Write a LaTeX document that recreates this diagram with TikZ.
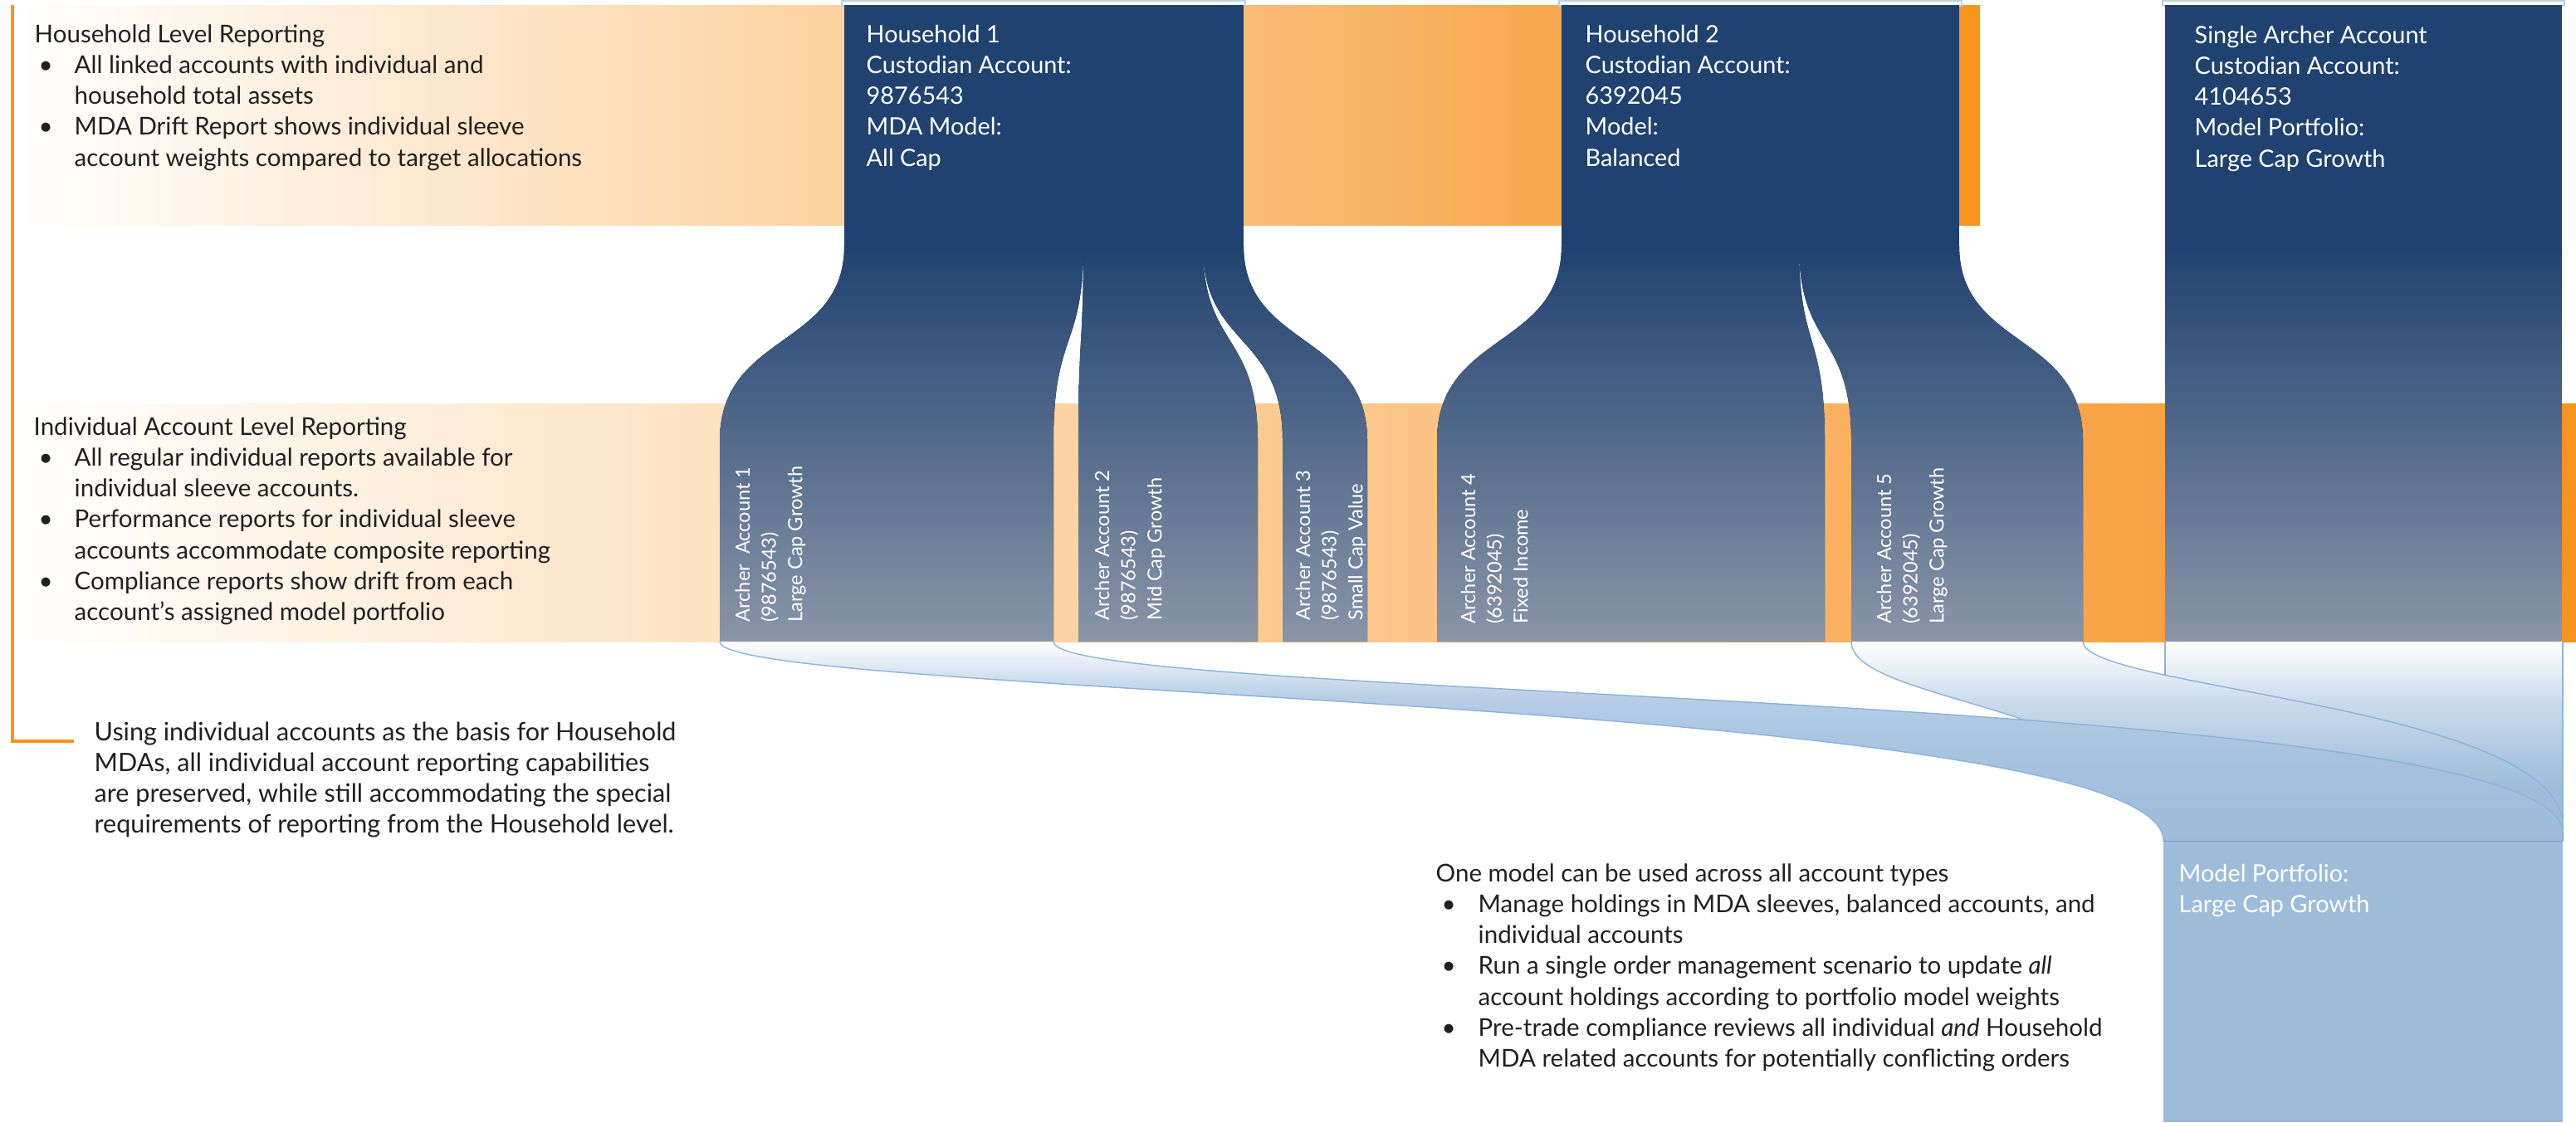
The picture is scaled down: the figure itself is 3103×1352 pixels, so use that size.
\documentclass[tikz,border=0pt]{standalone}
\usepackage{fontspec}
\setmainfont{Lato}
\usepackage{array}
\usepackage{tikz}
\usepackage{xcolor}

\definecolor{navy}{HTML}{1F4270}
\definecolor{slate}{HTML}{8A95A8}
\definecolor{ink}{HTML}{231F20}
\definecolor{bandA}{HTML}{FCD2A0}
\definecolor{bandB}{HTML}{FABA72}
\definecolor{bandC}{HTML}{F8A64B}
\definecolor{bandD}{HTML}{F7941D}
\definecolor{mpblue}{HTML}{9DBCDA}
\definecolor{flowdeep}{HTML}{A5C2DE}
\definecolor{flowmid}{HTML}{B6CDE5}
\definecolor{colmid}{HTML}{C8D9EB}
\definecolor{flowline}{HTML}{8DB3D9}
\definecolor{frameblue}{HTML}{B9D0E8}
\pgfdeclarehorizontalshading{bandshade}{100bp}{color(0bp)=(white); color(25bp)=(white); color(46bp)=(bandA); color(57bp)=(bandB); color(65bp)=(bandC); color(75bp)=(bandD); color(100bp)=(bandD)}
\pgfdeclareverticalshading{flowshade}{100bp}{color(0bp)=(mpblue); color(25bp)=(mpblue); color(45bp)=(flowdeep); color(61bp)=(flowmid); color(75bp)=(white); color(100bp)=(white)}
\pgfdeclareverticalshading{colshade}{100bp}{color(0bp)=(mpblue); color(25bp)=(mpblue); color(38bp)=(mpblue); color(59bp)=(colmid); color(75bp)=(white); color(100bp)=(white)}

\begin{document}
\begin{tikzpicture}[x=0.1mm, y=0.1mm]
\tikzstyle{every node}+=[inner sep=0pt]
\tikzstyle{bodytext}=[anchor=base west, text=ink, font=\fontsize{8.4}{10.6}\selectfont]
\tikzstyle{boxtext}=[anchor=base west, text=white, font=\fontsize{8.2}{10.6}\selectfont]
\tikzstyle{sleevetext}=[anchor=base west, rotate=90, text=white, font=\fontsize{6.7}{9}\selectfont]
\tikzstyle{sleeve}=[top color=navy, bottom color=slate]
\tikzstyle{column}=[shading=colshade]
\tikzstyle{flowedge}=[flowline, line width=0.4pt]
\useasboundingbox (0,0) rectangle (3103,-1352);
\fill [shading=bandshade] (20,-6) rectangle (2385,-271);
\fill [shading=bandshade] (20,-486) rectangle (3103,-773);
\draw [bandD, line width=1.1pt] (15,-6) -- (15,-893) -- (89,-893);
\draw [frameblue, fill=white, line width=0.4pt] (1014,-1) rectangle (1500,-7);
\draw [frameblue, fill=white, line width=0.4pt] (1878,-1) rectangle (2363,-7);
\draw [frameblue, fill=white, line width=0.4pt] (2605,-1) rectangle (3089,-7);
\fill [sleeve] (1017,-296) -- (1305,-296) .. controls (1305,-420) and (1269,-400) .. (1269,-531) -- (1269,-773) -- (867,-773) -- (867,-531) .. controls (867,-400) and (1017,-420) .. (1017,-296) -- cycle;
\fill [sleeve] (1305,-296) -- (1449,-296) .. controls (1449,-420) and (1515,-400) .. (1515,-531) -- (1515,-773) -- (1299,-773) -- (1299,-531) .. controls (1299,-400) and (1305,-420) .. (1305,-296) -- cycle;
\fill [sleeve] (1449,-296) -- (1498,-296) .. controls (1498,-420) and (1647,-400) .. (1647,-531) -- (1647,-773) -- (1545,-773) -- (1545,-531) .. controls (1545,-400) and (1449,-420) .. (1449,-296) -- cycle;
\fill [sleeve] (1881,-296) -- (2167,-296) .. controls (2167,-420) and (2198,-400) .. (2198,-531) -- (2198,-773) -- (1731,-773) -- (1731,-531) .. controls (1731,-400) and (1881,-420) .. (1881,-296) -- cycle;
\fill [sleeve] (2167,-296) -- (2360,-296) .. controls (2360,-420) and (2509,-400) .. (2509,-531) -- (2509,-773) -- (2230,-773) -- (2230,-531) .. controls (2230,-400) and (2167,-420) .. (2167,-296) -- cycle;
\fill [sleeve] (2608,-296) rectangle (3086,-773);
\fill [navy] (1017,-6) rectangle (1498,-300);
\fill [navy] (1881,-6) rectangle (2360,-300);
\fill [navy] (2608,-6) rectangle (3086,-300);
\node (hhreport) [bodytext] at (41,-51) {\begin{tabular}[t]{@{}p{4.8mm}@{}l@{}}
\multicolumn{2}{@{}l@{}}{Household Level Reporting}\\
\hspace*{0.5mm}\textbullet & All linked accounts with individual and\\
 & household total assets\\
\hspace*{0.5mm}\textbullet & MDA Drift Report shows individual sleeve\\
 & account weights compared to target allocations
\end{tabular}};
\node (indreport) [bodytext] at (40,-524) {\begin{tabular}[t]{@{}p{4.9mm}@{}l@{}}
\multicolumn{2}{@{}l@{}}{Individual Account Level Reporting}\\
\hspace*{0.6mm}\textbullet & All regular individual reports available for\\
 & individual sleeve accounts.\\
\hspace*{0.6mm}\textbullet & Performance reports for individual sleeve\\
 & accounts accommodate composite reporting\\
\hspace*{0.6mm}\textbullet & Compliance reports show drift from each\\
 & account’s assigned model portfolio
\end{tabular}};
\node (note) [bodytext, font=\fontsize{8.7}{10.6}\selectfont] at (113,-892) {\begin{tabular}[t]{@{}l@{}}
Using individual accounts as the basis for Household\\
MDAs, all individual account reporting capabilities\\
are preserved, while still accommodating the special\\
requirements of reporting from the Household level.
\end{tabular}};
\node (hh1) [boxtext] at (1043,-51) {\begin{tabular}[t]{@{}l@{}}
Household 1\\ Custodian Account:\\ 9876543\\ MDA Model:\\ All Cap
\end{tabular}};
\node (hh2) [boxtext] at (1909,-51) {\begin{tabular}[t]{@{}l@{}}
Household 2\\ Custodian Account:\\ 6392045\\ Model:\\ Balanced
\end{tabular}};
\node (single) [boxtext] at (2643,-52) {\begin{tabular}[t]{@{}l@{}}
Single Archer Account\\ Custodian Account:\\ 4104653\\ Model Portfolio:\\ Large Cap Growth
\end{tabular}};
\node (acc1) [sleevetext] at (903,-750) {\begin{tabular}[t]{@{}l@{}}
Archer\ \ Account 1\\ (9876543)\\ Large Cap Growth
\end{tabular}};
\node (acc2) [sleevetext] at (1336,-748) {\begin{tabular}[t]{@{}l@{}}
Archer Account 2\\ (9876543)\\ Mid Cap Growth
\end{tabular}};
\node (acc3) [sleevetext] at (1578,-748) {\begin{tabular}[t]{@{}l@{}}
Archer Account 3\\ (9876543)\\ Small Cap Value
\end{tabular}};
\node (acc4) [sleevetext] at (1777,-752) {\begin{tabular}[t]{@{}l@{}}
Archer Account 4\\ (6392045)\\ Fixed Income
\end{tabular}};
\node (acc5) [sleevetext] at (2278,-752) {\begin{tabular}[t]{@{}l@{}}
Archer Account 5\\ (6392045)\\ Large Cap Growth
\end{tabular}};
\fill [column] (2608,-773) rectangle (3087,-1013);
\fill [mpblue] (2606,-1012) rectangle (3087,-1352);
\draw [flowedge] (2608,-773) -- (2608,-1013);
\draw [flowedge] (3087,-773) -- (3087,-1013);
\fill [column] (2230,-773) -- (2509,-773) .. controls (2509,-830) and (3087,-850) .. (3087,-995) -- (3087,-1013) -- (2606,-1013) .. controls (2606,-850) and (2230,-850) .. (2230,-773) -- cycle;
\draw [flowedge] (2230,-773) .. controls (2230,-850) and (2606,-850) .. (2606,-1013);
\draw [flowedge] (2509,-773) .. controls (2509,-830) and (3087,-850) .. (3087,-995);
\fill [shading=flowshade] (867,-773) -- (1269,-773) .. controls (1269,-845) and (3087,-830) .. (3087,-1003) -- (3087,-1013) -- (2606,-1013) .. controls (2606,-840) and (867,-840) .. (867,-773) -- cycle;
\draw [flowedge] (867,-773) .. controls (867,-840) and (2606,-840) .. (2606,-1013);
\draw [flowedge] (1269,-773) .. controls (1269,-845) and (3087,-830) .. (3087,-1003);
\node (mp) [boxtext] at (2624,-1062) {\begin{tabular}[t]{@{}l@{}}
Model Portfolio:\\ Large Cap Growth
\end{tabular}};
\node (onemodel) [bodytext] at (1729,-1062) {\begin{tabular}[t]{@{}p{5.1mm}@{}l@{}}
\multicolumn{2}{@{}l@{}}{One model can be used across all account types}\\
\hspace*{0.7mm}\textbullet & Manage holdings in MDA sleeves, balanced accounts, and\\
 & individual accounts\\
\hspace*{0.7mm}\textbullet & Run a single order management scenario to update \emph{all}\\
 & account holdings according to portfolio model weights\\
\hspace*{0.7mm}\textbullet & Pre-trade compliance reviews all individual \emph{and} Household\\
 & MDA related accounts for potentially conflicting orders
\end{tabular}};
\end{tikzpicture}
\end{document}
